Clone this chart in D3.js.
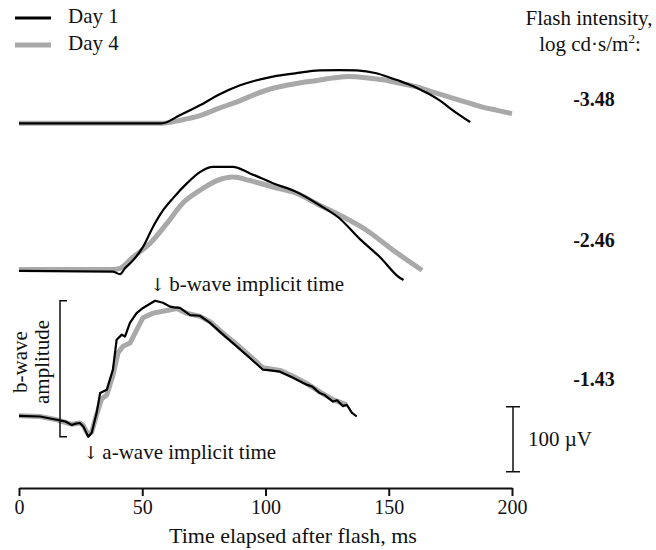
<!DOCTYPE html>
<html>
<head>
<meta charset="utf-8">
<script src="https://cdn.jsdelivr.net/npm/d3@7"></script>
<style>
  body { margin: 0; background: #fff; }
  svg text { font-family: "Liberation Serif", "Times New Roman", serif; fill: #111; }
</style>
</head>
<body>
<svg id="chart" width="656" height="550"></svg>
<script>
// flash intensities, log cd*s/m2 (top to bottom)
var intensities = ["-3.48", "-2.46", "-1.43"];
var seriesNames = ["Day 1", "Day 4"];
var xTicks = [0, 50, 100, 150, 200];

// [ms, uV] relative to each trace's pre-flash baseline
var day1_348 = [[0,0],[57.9,0],[65,12],[73.4,27.7],[81,44],[89.7,58.5],[96,66],[103,72],[112,77],[122,81.5],[130,82],[137,81.5],[145,77],[150,71],[154.6,65],[158,60],[162.7,52],[166,46],[170.8,35],[176,20],[183,2]];
var day4_348 = [[0,0],[57.9,0],[62,2],[67,6],[73.4,12],[81,23],[89.7,35],[96,45],[103,54],[112,61],[121,66],[128,70],[134,72],[141,70],[147.7,67],[154,62],[161.5,56],[168,48],[174.9,40],[181,33],[188,25],[194,20],[200,15]];

var day1_246 = [[0,-1],[38,-2],[41,-6],[43,3],[46.2,15],[50.3,36],[54.4,67],[58.4,92],[62.5,111],[68.2,134],[73.4,151],[78.7,159],[86.8,159],[93.7,149],[103,134],[112.8,120],[122,100],[130,80],[138,49],[146.5,20],[154.6,-12],[156,-15]];
var day4_246 = [[0,1],[38,1],[41,3],[46.2,20],[53.2,41.5],[60,72],[66.4,103],[73.4,123],[80.3,138],[86.8,143.5],[93.7,138],[103,128],[112.8,118],[122,100],[130,85],[141,61.5],[151.7,31],[163.5,0]];

var day1_143 = [[0,0],[8.5,-1],[15.3,-6],[19,-9],[21.4,-14],[23,-12],[24.7,-11],[26.1,-16.5],[28.1,-32],[29.5,-26],[31.5,4.6],[32.9,35],[35.6,40],[36.8,55],[38.1,71],[39.6,117],[41.7,125],[43,122],[45,143],[47.7,158],[50.3,166],[53,172],[55.2,177],[58.4,174],[61.3,168],[63,167],[65.3,166],[69.4,155],[73.4,154],[77.5,143],[82.8,125],[88.3,107],[93.7,89],[99,71],[102,70],[105.9,68],[111.2,58.5],[116.7,48],[119,45],[122,35],[124,32],[127.4,22],[129,24],[131.4,15],[133,17],[135,5],[137,-1]];
var day4_143 = [[0,0],[8.5,-1],[15.3,-6],[21.4,-13],[24.7,-11],[26.1,-15],[28.1,-29],[29.5,-25],[31.5,2],[33.5,26],[35.6,32],[38.1,62],[40.2,97],[42.2,107],[45,112],[47.7,132],[50.3,151],[54.4,158],[60,162],[64,165],[68,158],[73.4,153],[77.5,145],[82.8,127],[88.3,110],[93.7,92],[99,74],[105.9,70],[111.2,61],[116.7,50],[122,37],[127.4,25],[133,17]];

var day1Traces = [day1_348, day1_246, day1_143];
var day4Traces = [day4_348, day4_246, day4_143];

// vertical offset of each trace in uV above the time axis
var traceOffsets = [561, 335, 111];
var labelY = [106, 247, 386];

var svg = d3.select("#chart");

var x = d3.scaleLinear().domain([0, 200]).range([19, 512]);
var y = d3.scaleLinear().domain([0, 100]).range([488, 423]);

var colors = ["#000000", "#a9a9a9"];
var widths = [2.2, 5];

function drawTrace(data, offset, i, curve) {
  var line = d3.line()
    .x(function(d) { return x(d[0]); })
    .y(function(d) { return y(d[1] + offset); })
    .curve(curve);
  svg.append("path")
    .datum(data)
    .attr("fill", "none")
    .attr("stroke", colors[i])
    .attr("stroke-width", widths[i])
    .attr("stroke-linejoin", "round")
    .attr("d", line);
}

for (var t = 0; t < 3; t++) {
  var curve = t < 2 ? d3.curveMonotoneX : d3.curveLinear;
  drawTrace(day4Traces[t], traceOffsets[t], 1, curve);
  drawTrace(day1Traces[t], traceOffsets[t], 0, curve);
}

// x axis
var axis = svg.append("g")
  .attr("transform", "translate(0,488)")
  .call(d3.axisBottom(x).tickValues(xTicks).tickSize(8).tickSizeOuter(0));
axis.select(".domain").attr("stroke", "#111").attr("stroke-width", 2);
axis.selectAll(".tick line").attr("stroke", "#111").attr("stroke-width", 2);
axis.selectAll(".tick text")
  .attr("y", 12)
  .style("font-family", "Liberation Serif")
  .style("font-size", "20px")
  .attr("fill", "#111");

svg.append("text")
  .attr("x", 293).attr("y", 543)
  .attr("text-anchor", "middle")
  .style("font-size", "22px")
  .text("Time elapsed after flash, ms");

// legend
var legend = svg.selectAll(".legend")
  .data(seriesNames)
  .enter().append("g")
  .attr("class", "legend")
  .attr("transform", function(d, i) { return "translate(0," + (18 + i * 27) + ")"; });
legend.append("line")
  .attr("x1", 15).attr("x2", 51)
  .attr("stroke", function(d, i) { return colors[i]; })
  .attr("stroke-width", function(d, i) { return i == 0 ? 3 : 5; });
legend.append("text")
  .attr("x", 68).attr("y", 5)
  .style("font-size", "21px")
  .text(function(d) { return d; });

// flash intensity labels
svg.append("text")
  .attr("x", 589).attr("y", 25)
  .attr("text-anchor", "middle")
  .style("font-size", "21px")
  .text("Flash intensity,");
var unit = svg.append("text")
  .attr("x", 590).attr("y", 51)
  .attr("text-anchor", "middle")
  .style("font-size", "21px");
unit.append("tspan").text("log cd\u00b7s/m");
unit.append("tspan").attr("dy", -8).style("font-size", "13px").text("2");
unit.append("tspan").attr("dy", 8).text(":");

svg.selectAll(".intensity")
  .data(intensities)
  .enter().append("text")
  .attr("class", "intensity")
  .attr("x", 594)
  .attr("y", function(d, i) { return labelY[i]; })
  .attr("text-anchor", "middle")
  .style("font-size", "20px")
  .style("font-weight", "bold")
  .text(function(d) { return d; });

// b-wave amplitude bracket
var troughY = y(traceOffsets[2] - 32);
var peakY = y(traceOffsets[2] + 177);
svg.append("path")
  .attr("d", "M67," + peakY + "H60V" + troughY + "H67")
  .attr("fill", "none").attr("stroke", "#111").attr("stroke-width", 1.5);
var amp = svg.append("text")
  .attr("transform", "translate(27,362) rotate(-90)")
  .attr("text-anchor", "middle")
  .style("font-size", "21px");
amp.append("tspan").attr("x", 0).attr("y", 0).text("b-wave");
amp.append("tspan").attr("x", 0).attr("y", 22).text("amplitude");

function annotate(px, py, label) {
  var txt = svg.append("text")
    .attr("x", px - 5).attr("y", py)
    .style("font-size", "21px");
  txt.append("tspan").style("font-family", "DejaVu Serif").style("font-size", "18px").text("\u2193");
  txt.append("tspan").attr("dx", 4).text(label);
}
annotate(x(55.2), 291, "b-wave implicit time");
annotate(x(28.1), 459, "a-wave implicit time");

// 100 uV scale bar
svg.append("path")
  .attr("d", "M506," + y(125) + "H520M513," + y(125) + "V" + y(25) + "M506," + y(25) + "H520")
  .attr("fill", "none").attr("stroke", "#111").attr("stroke-width", 1.5);
svg.append("text")
  .attr("x", 528).attr("y", y(75) + 7)
  .style("font-size", "21px")
  .text("100 \u00b5V");
</script>
</body>
</html>
